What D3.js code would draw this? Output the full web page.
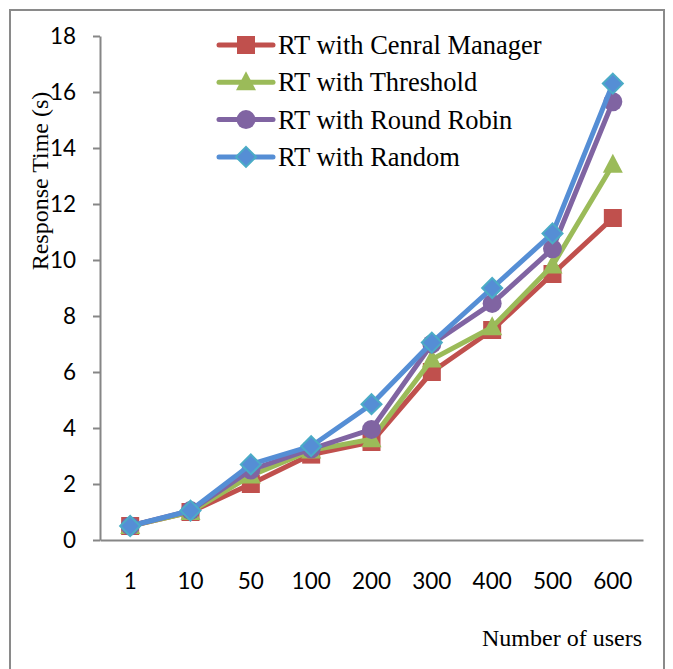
<!DOCTYPE html>
<html><head><meta charset="utf-8">
<script src="https://cdnjs.cloudflare.com/ajax/libs/d3/7.8.5/d3.min.js"></script>
<style>body{margin:0;background:#fff}svg{display:block}</style>
</head><body>
<svg id="c" width="673" height="669"></svg>
<script>
const categories = ["1","10","50","100","200","300","400","500","600"];
const centralManager = [0.5,1.0,2.0,3.05,3.5,6.0,7.5,9.5,11.5];
const threshold = [0.5,1.0,2.3,3.2,3.6,6.45,7.6,9.8,13.4];
const roundRobin = [0.5,1.05,2.5,3.25,3.95,7.0,8.45,10.4,15.65];
const randomRT = [0.5,1.05,2.7,3.35,4.85,7.05,9.0,10.95,16.3];
const seriesNames = ["RT with Cenral Manager","RT with Threshold","RT with Round Robin","RT with Random"];
const yTicks = [0,2,4,6,8,10,12,14,16,18];

const series = [
  {name: seriesNames[0], values: centralManager, color: "#c0504d", marker: "square"},
  {name: seriesNames[1], values: threshold, color: "#9bbb59", marker: "triangle"},
  {name: seriesNames[2], values: roundRobin, color: "#8064a2", marker: "circle"},
  {name: seriesNames[3], values: randomRT, color: "#558ed5", marker: "diamond"}
];

const svg = d3.select("#c");
svg.append("rect").attr("x",10).attr("y",10).attr("width",654).attr("height",680)
  .attr("fill","none").attr("stroke","#8a8a8a").attr("stroke-width",2);

const x = d3.scaleBand().domain(categories).range([100,643]);
const y = d3.scaleLinear().domain([0,18]).range([540,36]);
const axisColor = "#868686";

// y axis
const ya = svg.append("g").attr("transform","translate(100,0)")
  .call(d3.axisLeft(y).tickValues(yTicks).tickSize(7).tickPadding(17).tickSizeOuter(0));
ya.select(".domain").attr("stroke",axisColor).attr("stroke-width",2);
ya.selectAll(".tick line").attr("stroke",axisColor).attr("stroke-width",2);
ya.selectAll(".tick text").attr("font-family","Lato, 'Open Sans', sans-serif").attr("font-size",22.5).attr("fill","#000");

// x axis
const xa = svg.append("g").attr("transform","translate(0,540)")
  .call(d3.axisBottom(x).tickSize(0).tickPadding(33).tickSizeOuter(0));
xa.select(".domain").attr("stroke",axisColor).attr("stroke-width",2);
xa.selectAll(".tick text").attr("font-family","Lato, 'Open Sans', sans-serif").attr("font-size",22.5).attr("fill","#000");

const cx = c => x(c) + x.bandwidth()/2;
const line = d3.line().x((d,i)=>cx(categories[i])).y(d=>y(d));

function drawMarker(g, type, px, py, color) {
  if (type === "square") {
    g.append("rect").attr("x",px-9).attr("y",py-9).attr("width",18).attr("height",18).attr("fill",color);
  } else if (type === "triangle") {
    g.append("path").attr("d",`M${px},${py-11}L${px+10},${py+8}L${px-10},${py+8}Z`).attr("fill",color);
  } else if (type === "circle") {
    g.append("circle").attr("cx",px).attr("cy",py).attr("r",9.5).attr("fill",color);
  } else {
    g.append("path").attr("d",`M${px},${py-10}L${px+10},${py}L${px},${py+10}L${px-10},${py}Z`)
      .attr("fill",color).attr("stroke","#4bacc6").attr("stroke-width",2);
  }
}

series.forEach(s => {
  const g = svg.append("g");
  g.append("path").datum(s.values).attr("d",line).attr("fill","none")
    .attr("stroke",s.color).attr("stroke-width",5).attr("stroke-linejoin","round");
  s.values.forEach((v,i)=>drawMarker(g, s.marker, cx(categories[i]), y(v), s.color));
});

// legend
series.forEach((s,i) => {
  const ly = 45 + i*37.3;
  const g = svg.append("g");
  g.append("line").attr("x1",219).attr("x2",273).attr("y1",ly).attr("y2",ly)
    .attr("stroke",s.color).attr("stroke-width",5).attr("stroke-linecap","round");
  drawMarker(g, s.marker, 246, ly, s.color);
  g.append("text").attr("x",278).attr("y",ly+9).text(s.name)
    .attr("font-family","'Liberation Serif','Times New Roman',serif").attr("font-size",26.5).attr("fill","#000");
});

// axis titles
svg.append("text").attr("transform","translate(48,181) rotate(-90)").attr("text-anchor","middle")
  .attr("font-family","'Liberation Serif','Times New Roman',serif").attr("font-size",24).text("Response Time (s)");
svg.append("text").attr("x",642).attr("y",646).attr("text-anchor","end")
  .attr("font-family","'Liberation Serif','Times New Roman',serif").attr("font-size",24).text("Number of users");
</script>
</body></html>
